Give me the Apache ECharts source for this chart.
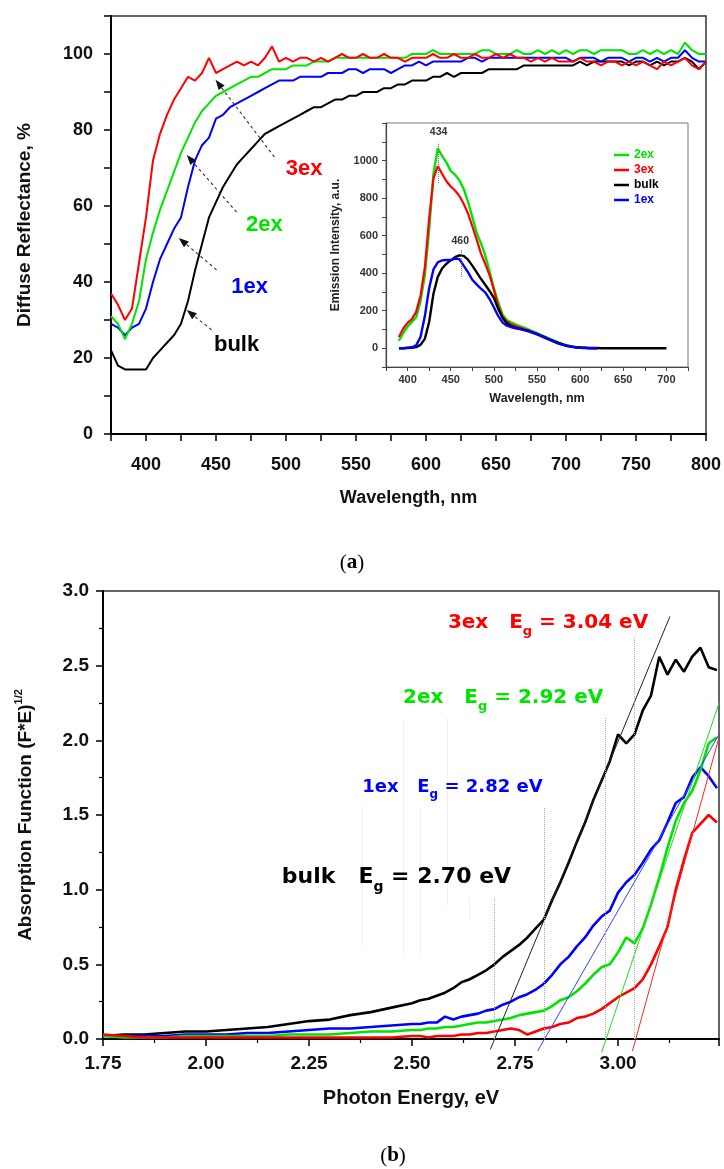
<!DOCTYPE html>
<html><head><meta charset="utf-8">
<script src="https://cdn.jsdelivr.net/npm/echarts@6/dist/echarts.min.js"></script>
<style>html,body{margin:0;padding:0;background:#fff}#c{width:724px;height:1169px}</style>
</head><body><div id="c"></div>
<script>
// ---------- (a) Diffuse reflectance ----------
const aWave = [375,380,385,390,395,400,405,410,415,420,425,430,435,440,445,450,455,460,465,470,475,480,485,490,495,500,505,510,515,520,525,530,535,540,545,550,555,560,565,570,575,580,585,590,595,600,605,610,615,620,625,630,635,640,645,650,655,660,665,670,675,680,685,690,695,700,705,710,715,720,725,730,735,740,745,750,755,760,765,770,775,780,785,790,795,800];
const aRed = [37,34,30,33,45,57,72,79,84,88, 91,94,93,95,99,95,96,97,98,97, 98,97,99,102,98,99,98,99,99,98, 99,98,99,100,99,99,100,99,99,100, 99,99,98,99,99,99,100,99,99,100, 99,99,100,99,99,100,99,100,99,99, 98,99,98,99,98,98,98,99,98,98, 97,98,98,97,98,97,98,97,96,98, 97,98,99,97,96,98];
const aGreen = [31,29,25,29,35,46,53,59,64,69, 74,78,82,85,87,89,90,91,92,93, 94,94,95,96,96,96,97,97,97,98, 98,98,99,99,99,99,99,99,99,99, 99,99,99,100,100,100,101,100,100,100, 100,100,100,101,101,100,100,100,101,100, 100,101,100,101,100,101,100,101,101,100, 101,101,101,101,100,100,101,100,101,100, 101,100,103,101,100,100];
const aBlue = [29,28,26,28,29,33,40,46,50,54, 57,65,72,76,78,83,84,86,87,88, 89,90,91,92,93,93,93,94,94,94, 94,95,95,95,96,96,95,96,96,96, 95,96,97,97,98,97,98,98,98,98, 98,99,99,98,99,99,99,99,99,99, 99,99,99,99,99,99,98,99,99,99, 98,99,99,99,98,99,99,98,99,98, 99,99,101,99,98,98];
const aBulk = [22,18,17,17,17,17,20,22,24,26, 29,35,43,50,57,61,65,68,71,73, 75,77,79,80,81,82,83,84,85,86, 86,87,88,88,89,89,90,90,90,91, 91,92,92,93,93,93,94,94,95,94, 95,95,95,95,96,96,96,96,96,97, 97,97,97,97,97,97,97,98,97,98, 98,98,98,98,97,98,98,97,98,97, 98,98,99,98,96,98];
const aLabels = ['3ex','2ex','1ex','bulk'];
const aLabelPos = [[513,69.7],[484.6,55],[474,38.7],[464.7,23.4]];
const aArrows = [[491.7,72.9,449.7,93.2],[464.7,58.4,429.1,73.4],[450.4,43.2,423.4,51.6],[446.9,27.4,429.1,32.6]];

// ---------- inset: emission ----------
const inWave = [390,395,400,405,410,415,420,425,430,435,440,445,450,455,460,465,470,475,480,485,490,495,500,505,510,515,520,525,530,535,540,545,550,555,560,565,570,575,580,585,590,595,600,605,610,615,620,625,630,635,640,645,650,655,660,665,670,675,680,685,690,695,700];
const inGreen = [40,80,115,140,165,250,390,630,930,1065, 1025,990,945,925,895,850,780,700,615,560, 495,410,320,245,180,150,138,127,118,110, 100,90,80,70,60,50,40,30,22,15, 10,6,4,2,1,0,0];
const inRed = [60,105,135,155,195,280,430,690,905,970, 930,890,862,840,812,770,718,650,580,505, 450,390,310,225,170,142,128,118,110,102, 95,85,75,65,55,45,35,25,18,12, 8,5,3,2,1,0,0];
const inBulk = [0,0,1,2,6,18,50,140,290,380, 425,450,468,485,495,492,472,440,405,370, 338,305,268,210,162,133,118,110,104,98, 92,84,76,66,56,46,36,28,20,14, 9,6,4,3,2,1,1, 0,0,0,0,0,0,0,0,0,0,0,0,0,0,0,0];
const inBlue = [0,0,3,5,15,60,170,320,420,458, 468,470,470,478,475,440,405,365,340,318, 298,262,218,172,138,120,112,106,102,96, 90,82,74,64,54,44,34,25,18,12, 7,4,2,1,0,0,0];
const inPeaks = ['434','460'];

// ---------- (b) Tauc plot ----------
const bEnergy = [1.75,1.80,1.85,1.90,1.95,2.00,2.05,2.10,2.15,2.20,2.25,2.30,2.35,2.40,2.45,2.50,2.52,2.54,2.56,2.58,2.60,2.62,2.64,2.66,2.68,2.70,2.72,2.74,2.76,2.78,2.80,2.82,2.84,2.86,2.88,2.90,2.92,2.94,2.96,2.98,3.00,3.02,3.04,3.06,3.08,3.10,3.12,3.14,3.16,3.18,3.20,3.22,3.24];
const bBulk = [0.02,0.03,0.03,0.04,0.05,0.05,0.06,0.07,0.08,0.10,0.12,0.13,0.16,0.18,0.21,0.24, 0.26,0.27,0.29,0.31,0.34,0.38,0.40,0.43,0.46,0.50, 0.55,0.59,0.63,0.68,0.74,0.80,0.93,1.05,1.18,1.32, 1.45,1.60,1.73,1.86,2.04,1.98,2.04,2.20,2.30,2.56, 2.44,2.54,2.46,2.56,2.62,2.49,2.47];
const bBlue = [0.02,0.02,0.02,0.02,0.03,0.03,0.03,0.04,0.04,0.05,0.06,0.07,0.07,0.08,0.09,0.10, 0.10,0.11,0.11,0.15,0.13,0.15,0.16,0.17,0.19,0.20, 0.23,0.25,0.28,0.30,0.33,0.37,0.43,0.50,0.55,0.62, 0.68,0.76,0.82,0.86,0.98,1.05,1.10,1.18,1.27,1.33, 1.45,1.58,1.62,1.75,1.82,1.76,1.68];
const bGreen = [0.02,0.01,0.01,0.01,0.02,0.02,0.02,0.02,0.02,0.03,0.03,0.03,0.04,0.05,0.05,0.06, 0.06,0.07,0.07,0.08,0.08,0.09,0.10,0.11,0.11,0.12, 0.13,0.14,0.16,0.17,0.18,0.19,0.22,0.26,0.28,0.32, 0.37,0.43,0.48,0.50,0.58,0.68,0.64,0.74,0.90,1.08, 1.28,1.46,1.58,1.66,1.80,1.98,2.02];
const bRed = [0.03,0.02,0.01,0.01,0.01,0.01,0.01,0.01,0.01,0.01,0.01,0.01,0.01,0.01,0.01,0.02, 0.02,0.01,0.02,0.02,0.02,0.03,0.03,0.04,0.04,0.05, 0.06,0.07,0.06,0.03,0.05,0.07,0.08,0.10,0.11,0.14, 0.15,0.17,0.20,0.24,0.28,0.31,0.34,0.40,0.50,0.62, 0.75,1.00,1.20,1.38,1.44,1.50,1.45];
const bFits = {bulk:[[2.69,-0.07],[3.126,2.83]], blue:[[2.805,-0.08],[3.245,2.04]], green:[[2.96,-0.09],[3.245,2.25]], red:[[3.035,-0.08],[3.245,2.02]]};
const bGaps = [3.04, 2.92, 2.82, 2.70];
const bGapNames = ['3ex','2ex','1ex','bulk'];
const bLabelPos = [[2.587,2.786],[2.478,2.284],[2.379,1.688],[2.184,1.085]];
const bDotted = [[2.70,0,0.95],[2.82,0,1.55],[2.97,0,2.15],[3.04,0,2.69]];
const bFaint = [[2.38,0.62,1.55],[2.478,0.55,2.15],[2.52,0.55,1.55],[2.585,0.9,2.15],[2.64,0.8,0.95]];

// ---------- styling ----------
const SANS = '"Liberation Sans", Arial, sans-serif';
const WIDE = '"DejaVu Sans", sans-serif';
const SERIF = '"Liberation Serif", "DejaVu Serif", serif';
const C = {red:'#ff0000', green:'#00e400', blue:'#0000ff', bulk:'#000000'};
const zip = (xs, ys) => ys.map((y, i) => [xs[i], y]);

function line(name, xi, yi, data, color, width, extra) {
  return Object.assign({type:'line', name, xAxisIndex:xi, yAxisIndex:yi, data, color,
    showSymbol:false, symbol:'none', lineStyle:{color, width}, silent:true}, extra||{});
}
function textSeries(xi, yi, items) {
  return {type:'scatter', xAxisIndex:xi, yAxisIndex:yi, symbolSize:1, silent:true, z:5,
    itemStyle:{color:'#fff', opacity:0}, data: items};
}
const annotLabel = (o) => Object.assign({show:true, position:['50%','50%'], opacity:1}, o);

const series = [];
// (a)
series.push(line('a-bulk',0,0,zip(aWave,aBulk),C.bulk,2));
series.push(line('a-1ex',0,0,zip(aWave,aBlue),C.blue,2));
series.push(line('a-2ex',0,0,zip(aWave,aGreen),C.green,2));
series.push(line('a-3ex',0,0,zip(aWave,aRed),C.red,2));
// dashed pointer arrows from the labels to the curves
series.push({type:'custom', xAxisIndex:0, yAxisIndex:0, silent:true, z:4, clip:false,
  encode:{x:[0,2], y:[1,3]}, data:aArrows,
  renderItem:(params, api) => {
    const p1 = api.coord([api.value(0), api.value(1)]);
    const p2 = api.coord([api.value(2), api.value(3)]);
    const dx = p2[0]-p1[0], dy = p2[1]-p1[1], L = Math.hypot(dx,dy), ux = dx/L, uy = dy/L;
    const hl = 10, hw = 3.8;
    const b = [p2[0]-ux*hl, p2[1]-uy*hl];
    return {type:'group', children:[
      {type:'line', shape:{x1:p1[0], y1:p1[1], x2:b[0], y2:b[1]}, style:{stroke:'#333', lineWidth:1.1, lineDash:[3,3]}},
      {type:'polygon', shape:{points:[p2, [b[0]-uy*hw, b[1]+ux*hw], [b[0]+uy*hw, b[1]-ux*hw]]}, style:{fill:'#111'}}
    ]};
  }});
const aCols = [C.red, C.green, C.blue, C.bulk];
series.push(textSeries(0,0, aLabels.map((t,i)=>({value:aLabelPos[i], label:annotLabel({formatter:t, color:aCols[i],
    fontFamily:SANS, fontWeight:'bold', fontSize:22, align:'center', verticalAlign:'middle'})}))));

// inset
series.push(line('2ex',1,1,zip(inWave,inGreen),C.green,2.4));
series.push(line('3ex',1,1,zip(inWave,inRed),C.red,2.2));
series.push(line('bulk',1,1,zip(inWave,inBulk),C.bulk,2.4,{
  markLine:{silent:true, symbol:'none', label:{show:false}, lineStyle:{type:'dotted', color:'#777', width:1},
    data:[[{coord:[435,880]},{coord:[435,1095]}],[{coord:[462,380]},{coord:[462,525]}]]}
}));
series.push(line('1ex',1,1,zip(inWave,inBlue),C.blue,2.4));
series.push(textSeries(1,1, [[436,1150],[461,572]].map((p,i)=>({value:p,
    label:annotLabel({formatter:inPeaks[i], color:'#333', fontFamily:SANS, fontSize:10.5, fontWeight:'bold', align:'center', verticalAlign:'middle'})}))));

// (b)
series.push(line('b-bulk',2,2,zip(bEnergy,bBulk),C.bulk,2.6,{
  markLine:{silent:true, symbol:'none', label:{show:false},
    data: bDotted.map(d=>[{coord:[d[0],d[1]], lineStyle:{type:'dotted', color:'#aaa', width:1}},{coord:[d[0],d[2]]}])
      .concat(bFaint.map(d=>[{coord:[d[0],d[1]], lineStyle:{type:'dotted', color:'#e2e2e2', width:1}},{coord:[d[0],d[2]]}]))}
}));
series.push(line('b-1ex',2,2,zip(bEnergy,bBlue),C.blue,2.6));
series.push(line('b-2ex',2,2,zip(bEnergy,bGreen),C.green,2.6));
series.push(line('b-3ex',2,2,zip(bEnergy,bRed),C.red,2.6));
series.push(line('fit-bulk',2,2,bFits.bulk,'#222',1,{clip:false}));
series.push(line('fit-1ex',2,2,bFits.blue,'#3344ff',1,{clip:false}));
series.push(line('fit-2ex',2,2,bFits.green,'#22dd22',1,{clip:false}));
series.push(line('fit-3ex',2,2,bFits.red,'#ff2222',1,{clip:false}));
const bCols = [C.red, C.green, C.blue, C.bulk];
const bSizes = [20,20,18,22];
series.push(textSeries(2,2, bGapNames.map((n,i)=>{
    const fs = bSizes[i], ss = Math.round(fs*0.65);
    return {value:bLabelPos[i], label:annotLabel({align:'left', verticalAlign:'middle',
      formatter:'{n|' + n + '   E}{s|g}{n| = ' + bGaps[i].toFixed(2) + ' eV}',
      rich:{n:{color:bCols[i], fontFamily:WIDE, fontWeight:'bold', fontSize:fs, lineHeight:fs+4},
            s:{color:bCols[i], fontFamily:WIDE, fontWeight:'bold', fontSize:ss, lineHeight:ss, padding:[Math.round(fs*0.9),0,0,0]}}})};
  })));

function axisBase(o) {
  return Object.assign({type:'value', splitLine:{show:false},
    axisLine:{show:true, onZero:false, lineStyle:{color:'#000', width:2}},
    axisTick:{show:true, length:7, lineStyle:{color:'#000', width:1.5}},
    nameLocation:'middle'}, o);
}

const option = {
  animation:false,
  backgroundColor:'#fff',
  grid:[
    {left:111, top:16, width:597, height:418, show:true, borderColor:'#333', borderWidth:1.5, backgroundColor:'transparent'},
    {left:386, top:123, width:302, height:244, show:true, borderColor:'#777', borderWidth:1, backgroundColor:'#fff'},
    {left:103, top:591, width:616, height:448, show:true, borderColor:'#333', borderWidth:1.5, backgroundColor:'transparent'}
  ],
  xAxis:[
    axisBase({gridIndex:0, min:375, max:800, interval:25,
      axisLabel:{formatter:v=> (v%50===0)? String(v):'', fontFamily:SANS, fontWeight:'bold', fontSize:18, color:'#111', margin:22},
      name:'Wavelength, nm', nameGap:55, nameTextStyle:{fontFamily:SANS, fontWeight:'bold', fontSize:18, color:'#111'}}),
    axisBase({gridIndex:1, min:375, max:725, interval:25,
      axisLine:{show:true, onZero:false, lineStyle:{color:'#444', width:1.2}},
      axisTick:{show:true, length:4, lineStyle:{color:'#444', width:1}},
      axisLabel:{formatter:v=> (v%50===0 && v>=400 && v<=700)? String(v):'', fontFamily:SANS, fontWeight:'bold', fontSize:11, color:'#333', margin:7},
      name:'Wavelength, nm', nameGap:25, nameTextStyle:{fontFamily:SANS, fontWeight:'bold', fontSize:12.5, color:'#222'}}),
    axisBase({gridIndex:2, min:1.75, max:3.245, interval:0.25,
      minorTick:{show:true, splitNumber:2, length:4, lineStyle:{color:'#000', width:1.2}},
      axisLabel:{formatter:v=>v.toFixed(2), showMaxLabel:false, fontFamily:SANS, fontWeight:'bold', fontSize:19, color:'#111', margin:15},
      name:'Photon Energy, eV', nameGap:49, nameTextStyle:{fontFamily:SANS, fontWeight:'bold', fontSize:20, color:'#111'}})
  ],
  yAxis:[
    axisBase({gridIndex:0, min:0, max:110, interval:10,
      axisLabel:{formatter:v=> (v%20===0 && v<=100)? String(v):'', fontFamily:SANS, fontWeight:'bold', fontSize:18, color:'#111', margin:18},
      name:'Diffuse Reflectance, %', nameRotate:90, nameGap:77, nameTextStyle:{fontFamily:SANS, fontWeight:'bold', fontSize:19, color:'#111'}}),
    axisBase({gridIndex:1, min:-100, max:1200, interval:100,
      axisLine:{show:true, onZero:false, lineStyle:{color:'#444', width:1.2}},
      axisTick:{show:true, length:4, lineStyle:{color:'#444', width:1}},
      axisLabel:{formatter:v=> (v>=0 && v<=1000 && v%200===0)? String(v):'', fontFamily:SANS, fontWeight:'bold', fontSize:11, color:'#333', margin:8},
      name:'Emission Intensity, a.u.', nameRotate:90, nameGap:44, nameTextStyle:{fontFamily:SANS, fontWeight:'bold', fontSize:12, color:'#222'}}),
    axisBase({gridIndex:2, min:0, max:3, interval:0.5,
      minorTick:{show:true, splitNumber:2, length:4, lineStyle:{color:'#000', width:1.2}},
      axisLabel:{formatter:v=>v.toFixed(1), fontFamily:SANS, fontWeight:'bold', fontSize:19, color:'#111', margin:14},
      name:'{a|Absorption Function (F*E)}{s|1/2}', nameRotate:90, nameGap:66,
      nameTextStyle:{rich:{a:{fontFamily:SANS, fontWeight:'bold', fontSize:19, color:'#111', lineHeight:22},
        s:{fontFamily:SANS, fontWeight:'bold', fontSize:11, color:'#111', lineHeight:11, padding:[0,0,14,0]}}}})
  ],
  legend:{show:true, orient:'vertical', left:609, top:144, itemWidth:15, itemHeight:2.5, itemGap:3, icon:'rect', selectedMode:false,
    textStyle:{fontFamily:SANS, fontWeight:'bold', fontSize:12},
    data:[{name:'2ex', textStyle:{color:C.green}},{name:'3ex', textStyle:{color:C.red}},{name:'bulk', textStyle:{color:'#000'}},{name:'1ex', textStyle:{color:C.blue}}]},
  graphic:[
    {type:'text', x:352, y:563, style:{text:'{p|(}{b|a}{p|)}', align:'center', verticalAlign:'middle',
      rich:{p:{fontFamily:SERIF, fontSize:21, fill:'#000'}, b:{fontFamily:SERIF, fontSize:21, fontWeight:'bold', fill:'#000'}}}},
    {type:'text', x:393, y:1156, style:{text:'{p|(}{b|b}{p|)}', align:'center', verticalAlign:'middle',
      rich:{p:{fontFamily:SERIF, fontSize:21, fill:'#000'}, b:{fontFamily:SERIF, fontSize:21, fontWeight:'bold', fill:'#000'}}}}
  ],
  series
};
const chart = echarts.init(document.getElementById('c'), null, {renderer:'canvas'});
chart.setOption(option);
</script></body></html>
